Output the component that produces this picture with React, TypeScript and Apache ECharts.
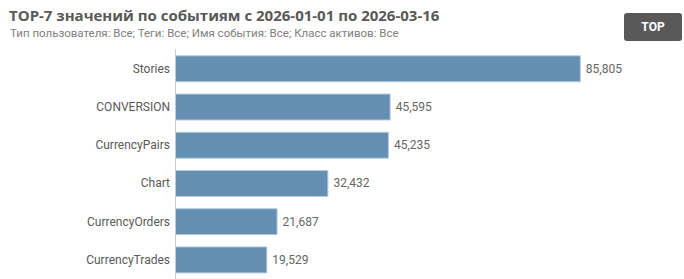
import React, { useEffect, useRef } from "react";
import * as echarts from "echarts";

const categories = ["Stories", "CONVERSION", "CurrencyPairs", "Chart", "CurrencyOrders", "CurrencyTrades"];
const values = [85805, 45595, 45235, 32432, 21687, 19529];
const titleText = "TOP-7 значений по событиям с 2026-01-01 по 2026-03-16";
const subtitleText = "Тип пользователя: Все; Теги: Все; Имя события: Все; Класс активов: Все";
const buttonText = "TOP";

export default function App() {
  const ref = useRef<HTMLDivElement>(null);
  useEffect(() => {
    document.body.style.margin = "0";
    const chart = echarts.init(ref.current!, null, { renderer: "svg" });
    chart.setOption({
      animation: false,
      backgroundColor: "#ffffff",
      title: [
        {
          text: titleText,
          left: 4,
          top: 2,
          textStyle: { fontFamily: "Open Sans", fontSize: 15, fontWeight: "bold", color: "#595959" },
        },
        {
          text: subtitleText,
          left: 5,
          top: 22,
          textStyle: { fontFamily: "Roboto", fontSize: 11.5, fontWeight: "normal", color: "#808080" },
        },
      ],
      graphic: [
        {
          type: "rect",
          shape: { x: 624, y: 13, width: 58, height: 28, r: 3 },
          style: { fill: "#595959" },
        },
        {
          type: "text",
          x: 653,
          y: 27,
          style: {
            text: buttonText,
            fill: "#ffffff",
            font: "bold 12px Roboto",
            align: "center",
            verticalAlign: "middle",
          },
        },
      ],
      grid: { left: 175, top: 49.7, height: 232, right: 36 },
      xAxis: {
        type: "value",
        min: 0,
        max: 100000,
        show: false,
      },
      yAxis: {
        type: "category",
        data: categories,
        inverse: true,
        axisLine: { show: true, lineStyle: { color: "#cccccc", width: 1 } },
        axisTick: { show: false },
        axisLabel: { fontFamily: "Roboto", fontSize: 12, color: "#595959", margin: 5 },
      },
      series: [
        {
          type: "bar",
          data: values,
          barWidth: 27,
          itemStyle: { color: "#648fb3", borderColor: "#b9cde0", borderWidth: 1 },
          label: {
            show: true,
            position: "right",
            distance: 5,
            fontFamily: "Roboto",
            fontSize: 12,
            color: "#666666",
            formatter: (p: any) => p.value.toLocaleString("en-US"),
          },
        },
      ],
    });
    return () => chart.dispose();
  }, []);
  return <div ref={ref} style={{ width: 684, height: 279 }} />;
}
